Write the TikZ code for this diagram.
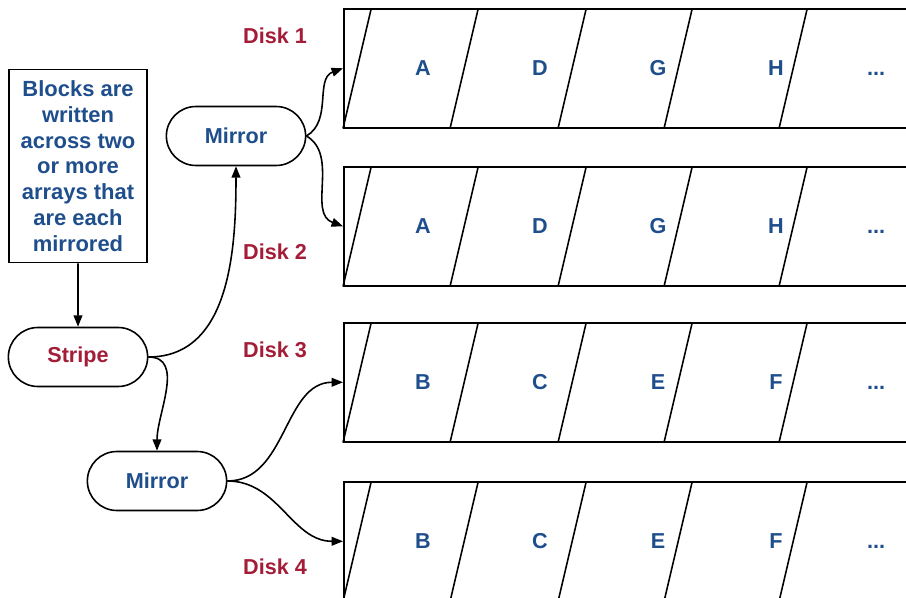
\documentclass[tikz,border=0pt]{standalone}
\usepackage{xcolor}
\usepackage{fontspec}
\setmainfont{Liberation Sans}
\usepackage{tikz}
\usetikzlibrary{arrows.meta,shapes.geometric,shapes.misc}
\definecolor{raidblue}{RGB}{31,78,140}
\definecolor{raidred}{RGB}{163,28,56}

\begin{document}
\begin{tikzpicture}[x=0.02cm,y=-0.02cm,line width=0.9pt,
  ctrl/.style={draw,rounded rectangle,minimum width=3.02cm,minimum height=1.18cm,font=\bfseries\fontsize{12.3}{14.7}\selectfont},
  disk/.style={draw,rectangle,anchor=north west,minimum width=12cm,minimum height=2.38cm,inner sep=0pt},
  blk/.style={text=raidblue,text height=8.8pt,text depth=0pt,font=\bfseries\fontsize{12.3}{14.7}\selectfont},
  dlabel/.style={text=raidred,font=\bfseries\fontsize{12.3}{14.7}\selectfont},
  arr/.style={-{Triangle[length=6.5pt,width=5pt]}}]
\useasboundingbox (0,0) rectangle (906,598);
\clip (0,0) rectangle (906,598);

\node[disk] (d1) at (343,8) {};
\node[disk] (d2) at (343,166) {};
\node[disk] (d3) at (343,322) {};
\node[disk] (d4) at (343,481) {};
\foreach \d in {d1,d2,d3,d4}
  \foreach \s in {0,107,215,321,436}
    \draw (\d.south west) ++(\s,0) -- ++(28,-119);
\foreach \d/\p/\q/\r/\s in {d1/A/D/G/H,d2/A/D/G/H,d3/B/C/E/F,d4/B/C/E/F}{
  \path (\d.west) ++(80,-1) node[blk] (\d-1) {\p}
                  ++(117,0) node[blk] (\d-2) {\q}
                  ++(118,0) node[blk] (\d-3) {\r}
                  ++(118,0) node[blk] (\d-4) {\s}
                  ++(100,0) node[blk] (\d-5) {...};
}

\node[dlabel] (l1) at (275,36) {Disk 1};
\node[dlabel] (l2) at (275,252) {Disk 2};
\node[dlabel] (l3) at (275,350) {Disk 3};
\node[dlabel] (l4) at (275,567) {Disk 4};

\node[draw,text=raidblue,font=\bfseries\fontsize{12.5}{14.7}\selectfont,align=center,
  minimum width=2.76cm,minimum height=3.86cm,inner sep=0pt] (note) at (78,166)
  {Blocks are\\written\\across two\\or more\\arrays that\\are each\\mirrored};
\node[ctrl,text=raidred] (stripe) at (78,357) {Stripe};
\node[ctrl,text=raidblue] (m1) at (236,136) {Mirror};
\node[ctrl,text=raidblue] (m2) at (157,481) {Mirror};

\draw[arr] (note) -- (stripe);
\draw[arr] (stripe.east) to[out=0,in=-90] (m1.south);
\draw[arr] (stripe.east) to[out=0,in=90] (m2.north);
\draw[arr] (m1.east) to[out=30,in=200] (d1.west);
\draw[arr] (m1.east) to[out=-30,in=160] (d2.west);
\draw[arr] (m2.east) to[out=0,in=180] (d3.west);
\draw[arr] (m2.east) to[out=0,in=180] (d4.west);
\end{tikzpicture}
\end{document}
